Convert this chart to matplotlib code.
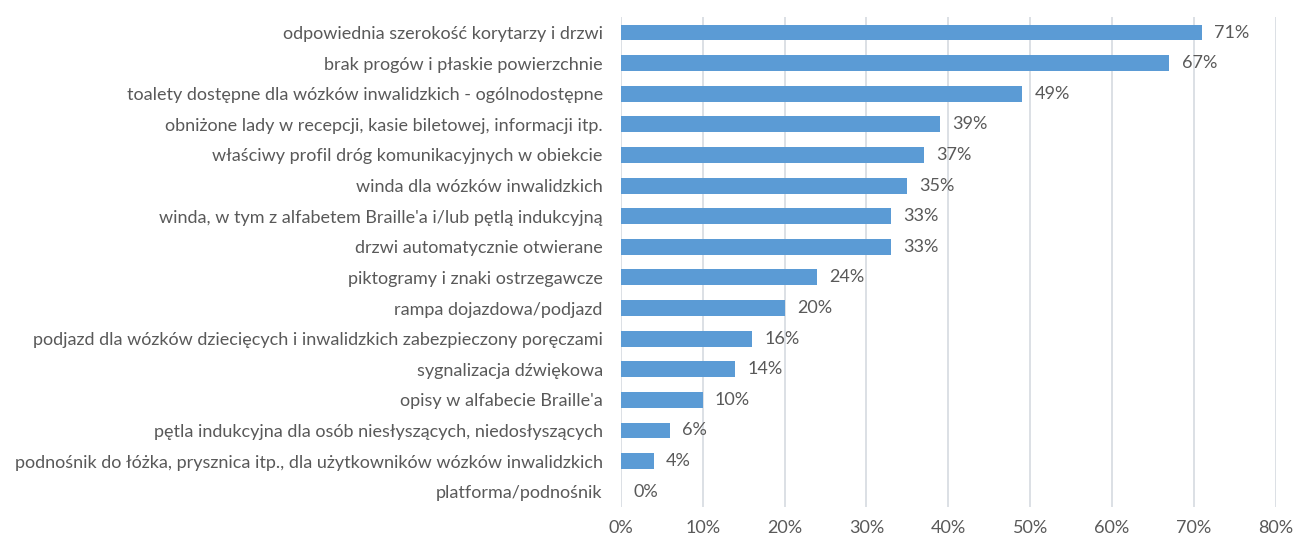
import matplotlib.pyplot as plt

labels = [
    "odpowiednia szerokość korytarzy i drzwi",
    "brak progów i płaskie powierzchnie",
    "toalety dostępne dla wózków inwalidzkich - ogólnodostępne",
    "obniżone lady w recepcji, kasie biletowej, informacji itp.",
    "właściwy profil dróg komunikacyjnych w obiekcie",
    "winda dla wózków inwalidzkich",
    "winda, w tym z alfabetem Braille'a i/lub pętlą indukcyjną",
    "drzwi automatycznie otwierane",
    "piktogramy i znaki ostrzegawcze",
    "rampa dojazdowa/podjazd",
    "podjazd dla wózków dziecięcych i inwalidzkich zabezpieczony poręczami",
    "sygnalizacja dźwiękowa",
    "opisy w alfabecie Braille'a",
    "pętla indukcyjna dla osób niesłyszących, niedosłyszących",
    "podnośnik do łóżka, prysznica itp., dla użytkowników wózków inwalidzkich",
    "platforma/podnośnik",
]
values = [71, 67, 49, 39, 37, 35, 33, 33, 24, 20, 16, 14, 10, 6, 4, 0]
xticks = [0, 10, 20, 30, 40, 50, 60, 70, 80]

plt.rcParams['font.family'] = ['Lato', 'DejaVu Sans']
text_col = '#595959'

fig = plt.figure(figsize=(12.96, 5.38), dpi=100)
ax = fig.add_axes([0.479, 0.0576, 0.5054, 0.9104])

pos = list(range(len(labels)))[::-1]
ax.barh(pos, values, height=0.52, color='#5b9bd5', zorder=3)
for p, v in zip(pos, values):
    ax.text(v + 1.5, p, f"{v}%", va='center', ha='left', fontsize=13, color=text_col)

ax.set_xlim(0, 80)
ax.set_ylim(-0.5, len(labels) - 0.5)
ax.set_xticks(xticks)
ax.set_xticklabels([f"{t}%" for t in xticks])
ax.set_yticks(pos)
ax.set_yticklabels(labels)
ax.tick_params(axis='both', length=0, labelsize=13, colors=text_col)
ax.tick_params(axis='x', pad=9)
ax.tick_params(axis='y', pad=13)
ax.grid(axis='x', color='#d9dde3', linewidth=1.3, zorder=0)
for s in ax.spines.values():
    s.set_visible(False)

fig.savefig('out.png', dpi=100)
